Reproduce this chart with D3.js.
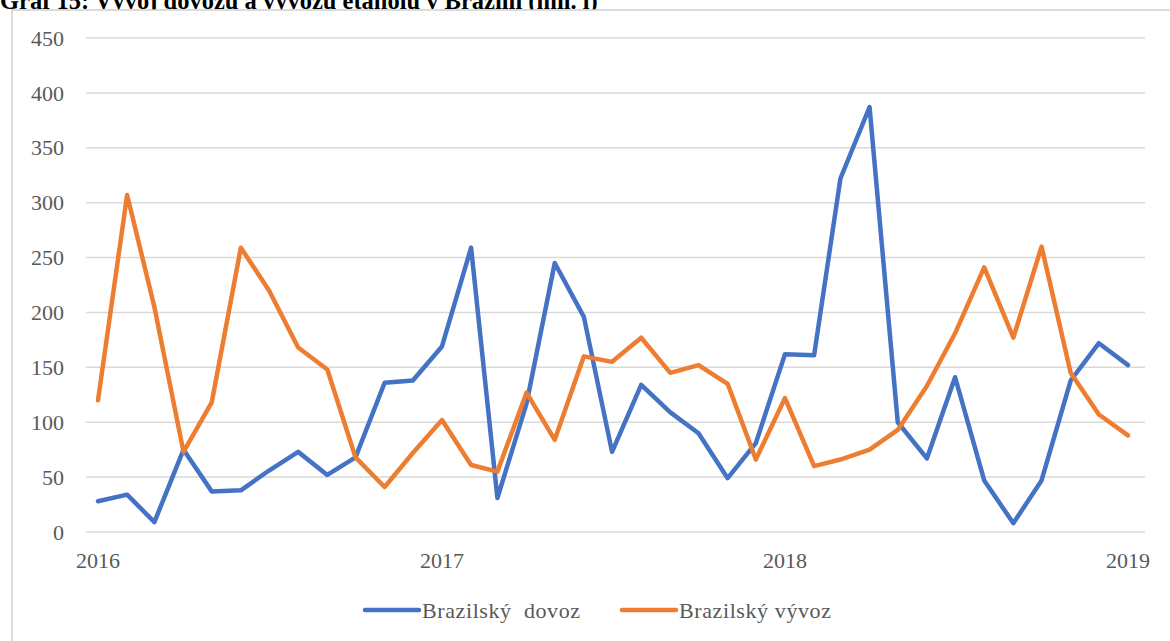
<!DOCTYPE html>
<html>
<head>
<meta charset="utf-8">
<script src="https://cdn.jsdelivr.net/npm/d3@7"></script>
<style>
body { margin: 0; background: #fff; }
text { font-family: "Liberation Serif", "Times New Roman", serif; }
</style>
</head>
<body>
<script>
var months = ["2016-01","2016-02","2016-03","2016-04","2016-05","2016-06","2016-07","2016-08","2016-09","2016-10","2016-11","2016-12",
	"2017-01","2017-02","2017-03","2017-04","2017-05","2017-06","2017-07","2017-08","2017-09","2017-10","2017-11","2017-12",
	"2018-01","2018-02","2018-03","2018-04","2018-05","2018-06","2018-07","2018-08","2018-09","2018-10","2018-11","2018-12",
	"2019-01"];

var dovoz = [28, 34, 9, 75, 37, 38, 56, 73, 52, 68, 136, 138,
	169, 259, 31, 117, 245, 196, 73, 134, 109, 90, 49, 81,
	162, 161, 322, 387, 100, 67, 141, 47, 8, 47, 138, 172,
	152];

var vyvoz = [120, 307, 205, 73, 118, 259, 220, 168, 148, 68, 41, 72,
	102, 61, 55, 127, 84, 160, 155, 177, 145, 152, 135, 66,
	122, 60, 66, 75, 93, 133, 181, 241, 177, 260, 145, 107,
	88];

var yTicks = [0, 50, 100, 150, 200, 250, 300, 350, 400, 450];
var xTickLabels = ["2016", "2017", "2018", "2019"];
var seriesNames = ["Brazilský  dovoz", "Brazilský vývoz"];
var colors = ["#4472C4", "#ED7D31"];

var parseMonth = d3.timeParse("%Y-%m");
var dates = months.map(parseMonth);

var svg = d3.select("body").append("svg").attr("width", 1170).attr("height", 641);

// heading, cut off at the top like in the scan
svg.append("text")
	.attr("x", 0).attr("y", 9)
	.style("font-size", "24.5px").style("font-weight", "bold").style("fill", "#000")
	.text("Graf 15: Vývoj dovozu a vývozu etanolu v Brazílii (mil. l)");

// chart frame
svg.append("rect")
	.attr("x", 12).attr("y", 10).attr("width", 1180).attr("height", 660)
	.style("fill", "#fff").style("stroke", "#d0d0d0").style("stroke-width", 1.5);

var x = d3.scaleTime().domain([parseMonth("2016-01"), parseMonth("2019-01")]).range([98, 1128]);
var y = d3.scaleLinear().domain([0, 450]).range([532, 38]);

// gridlines
svg.selectAll("line.grid").data(yTicks).enter().append("line")
	.attr("class", "grid")
	.attr("x1", 86).attr("x2", 1145)
	.attr("y1", function (d) { return y(d); })
	.attr("y2", function (d) { return y(d); })
	.style("stroke", "#d9d9d9").style("stroke-width", 1.5);

// y tick labels
svg.selectAll("text.ytick").data(yTicks).enter().append("text")
	.attr("class", "ytick")
	.attr("x", 64)
	.attr("y", function (d) { return y(d); })
	.attr("dy", "0.35em")
	.attr("text-anchor", "end")
	.style("font-size", "22px").style("fill", "#595959")
	.text(function (d) { return d; });

// x tick labels
svg.selectAll("text.xtick").data(xTickLabels).enter().append("text")
	.attr("class", "xtick")
	.attr("x", function (d) { return x(parseMonth(d + "-01")); })
	.attr("y", 560)
	.attr("dy", "0.35em")
	.attr("text-anchor", "middle")
	.style("font-size", "22px").style("fill", "#595959")
	.text(function (d) { return d; });

var line = d3.line()
	.x(function (d, i) { return x(dates[i]); })
	.y(function (d) { return y(d); });

[dovoz, vyvoz].forEach(function (series, k) {
	svg.append("path")
		.datum(series)
		.attr("d", line)
		.style("fill", "none")
		.style("stroke", colors[k])
		.style("stroke-width", 4.5)
		.style("stroke-linejoin", "round")
		.style("stroke-linecap", "round");
});

// legend
var legendX = [365, 622];
seriesNames.forEach(function (name, k) {
	svg.append("line")
		.attr("x1", legendX[k]).attr("x2", legendX[k] + 54)
		.attr("y1", 610).attr("y2", 610)
		.style("stroke", colors[k]).style("stroke-width", 4.5)
		.style("stroke-linecap", "round");
	svg.append("text")
		.attr("x", legendX[k] + 57).attr("y", 610)
		.attr("dy", "0.35em")
		.style("font-size", "22px").style("fill", "#595959")
		.style("letter-spacing", "0.6px")
		.style("white-space", "pre")
		.attr("xml:space", "preserve")
		.text(name);
});
</script>
</body>
</html>
